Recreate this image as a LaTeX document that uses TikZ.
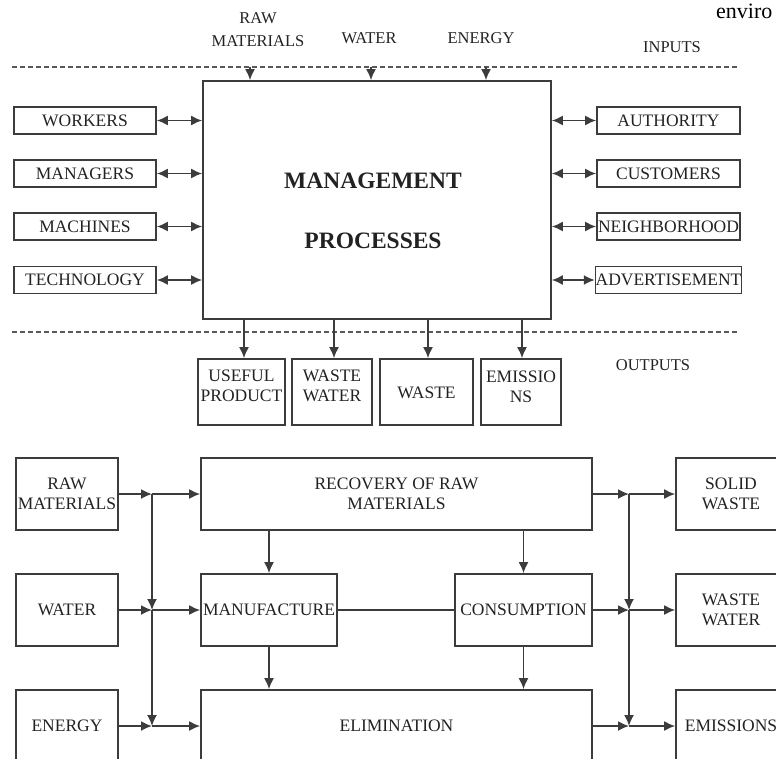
\documentclass[tikz,border=0pt]{standalone}
\usepackage{fontspec}
\setmainfont{Liberation Serif}
\usetikzlibrary{arrows.meta}
\definecolor{ink}{HTML}{222222}
\definecolor{edge}{HTML}{3C3C3C}
\begin{document}
\begin{tikzpicture}[x=1pt,y=-1pt,
  box/.style={draw=edge, line width=1.7pt, inner sep=0pt, text=ink, align=center, font=\fontsize{17.5}{20}\selectfont},
  txt/.style={inner sep=0pt, text=ink, align=center, font=\fontsize{17.5}{20}\selectfont},
  lbl/.style={inner sep=0pt, text=ink, align=center, font=\fontsize{16.5}{23}\selectfont},
  big/.style={inner sep=0pt, text=ink, font=\fontsize{23.5}{26}\selectfont\bfseries},
  arr/.style={draw=edge, line width=1.7pt, -{Latex[length=11pt,width=10pt]}},
  darr/.style={draw=edge, line width=1.7pt, {Latex[length=11pt,width=10pt]}-{Latex[length=11pt,width=10pt]}},
  ln/.style={draw=edge, line width=1.7pt},
  dline/.style={draw=edge!85, line width=1.8pt, dash pattern=on 5pt off 3pt}
]
\useasboundingbox (0,0) rectangle (776,758);
\clip (0,0) rectangle (776,758);

% partial heading
\node[inner sep=0pt, anchor=base west, text=black, font=\fontsize{22}{24}\selectfont] (hd) at (716,18) {enviro};

% ---------- top section ----------
\node[lbl] (inRaw) at (258,30) {RAW\\MATERIALS};
\node[lbl] (inWater) at (369,38) {WATER};
\node[lbl] (inEnergy) at (481,38) {ENERGY};
\node[lbl] (inputs) at (672,47) {INPUTS};

\coordinate (d1a) at (12,67);
\coordinate (d1b) at (737,67);
\draw[dline] (d1a) -- (d1b);

\node[box, minimum width=348, minimum height=238] (main) at (377,200) {};
\node[big] (mg1) at (373,181) {MANAGEMENT};
\node[big] (mg2) at (373,241) {PROCESSES};

\coordinate (ia) at (250,67);
\coordinate (ib) at (371,67);
\coordinate (ic) at (486,67);
\draw[arr] (ia) -- (ia |- main.north);
\draw[arr] (ib) -- (ib |- main.north);
\draw[arr] (ic) -- (ic |- main.north);

\node[box, minimum width=142, minimum height=27] (wk) at (85,120.5) {WORKERS};
\node[box, minimum width=142, minimum height=27] (mn) at (85,173.5) {MANAGERS};
\node[box, minimum width=142, minimum height=27] (mc) at (85,226.5) {MACHINES};
\node[box, minimum width=142, minimum height=27] (tc) at (85,280) {TECHNOLOGY};

\node[box, minimum width=143, minimum height=27] (au) at (668.5,120.5) {AUTHORITY};
\node[box, minimum width=143, minimum height=27] (cu) at (668.5,173.5) {CUSTOMERS};
\node[box, minimum width=143, minimum height=27] (nb) at (668.5,226.5) {NEIGHBORHOOD};
\node[box, minimum width=143, minimum height=27] (ad) at (668.5,280) {ADVERTISEMENT};

\foreach \n in {wk,mn,mc,tc} \draw[darr] (\n.east) -- (main.west |- \n.east);
\foreach \n in {au,cu,nb,ad} \draw[darr] (main.east |- \n.west) -- (\n.west);

\coordinate (d2a) at (12,332);
\coordinate (d2b) at (737,332);
\draw[dline] (d2a) -- (d2b);

\node[box, minimum width=87, minimum height=66] (o1) at (241.5,392) {};
\node[box, minimum width=80, minimum height=66] (o2) at (332,392) {};
\node[box, minimum width=93, minimum height=66] (o3) at (426.5,392) {};
\node[box, minimum width=80, minimum height=66] (o4) at (521,392) {};
\node[txt] (t1) at (241.5,386) {USEFUL\\PRODUCT};
\node[txt] (t2) at (332,386) {WASTE\\WATER};
\node[txt] (t3) at (426.5,393) {WASTE};
\node[txt] (t4) at (521,387) {EMISSIO\\NS};
\node[lbl] (outputs) at (653,365) {OUTPUTS};

\coordinate (oa) at (244,319);
\coordinate (ob) at (334,319);
\coordinate (oc) at (428,319);
\coordinate (od) at (522,319);
\draw[arr] (oa) -- (oa |- o1.north);
\draw[arr] (ob) -- (ob |- o2.north);
\draw[arr] (oc) -- (oc |- o3.north);
\draw[arr] (od) -- (od |- o4.north);

% ---------- bottom section ----------
\node[box, minimum width=102, minimum height=72] (raw) at (67,494) {RAW\\MATERIALS};
\node[box, minimum width=102, minimum height=72] (wat) at (67,610) {WATER};
\node[box, minimum width=102, minimum height=72] (ene) at (67,726) {ENERGY};

\node[box, minimum width=391, minimum height=72] (rec) at (396.5,494) {RECOVERY OF RAW\\MATERIALS};
\node[box, minimum width=136, minimum height=72] (man) at (269,610) {MANUFACTURE};
\node[box, minimum width=137, minimum height=72] (con) at (523.5,610) {CONSUMPTION};
\node[box, minimum width=391, minimum height=72] (eli) at (396.5,726) {ELIMINATION};

\node[box, minimum width=110, minimum height=72] (sw) at (731,494) {SOLID\\WASTE};
\node[box, minimum width=110, minimum height=72] (ww) at (731,610) {WASTE\\WATER};
\node[box, minimum width=110, minimum height=72] (em) at (731,726) {EMISSIONS};

\coordinate (lb1) at (152,494);
\coordinate (lb2) at (152,610);
\coordinate (lb3) at (152,726);
\coordinate (rb1) at (629,494);
\coordinate (rb2) at (629,610);
\coordinate (rb3) at (629,726);

\draw[arr] (raw.east) -- (lb1);
\draw[arr] (lb1) -- (rec.west);
\draw[arr] (wat.east) -- (lb2);
\draw[arr] (lb2) -- (man.west);
\draw[arr] (ene.east) -- (lb3);
\draw[arr] (lb3) -- (eli.west);
\draw[arr] (lb1) -- (lb2);
\draw[arr] (lb2) -- (lb3);

\draw[arr] (rec.east) -- (rb1);
\draw[arr] (rb1) -- (sw.west);
\draw[arr] (con.east) -- (rb2);
\draw[arr] (rb2) -- (ww.west);
\draw[arr] (eli.east) -- (rb3);
\draw[arr] (rb3) -- (em.west);
\draw[arr] (rb1) -- (rb2);
\draw[arr] (rb2) -- (rb3);

\draw[arr] (man.north |- rec.south) -- (man.north);
\draw[arr] (man.south) -- (man.south |- eli.north);
\draw[arr] (con.north |- rec.south) -- (con.north);
\draw[arr] (con.south) -- (con.south |- eli.north);
\draw[ln] (man.east) -- (con.west);
\end{tikzpicture}
\end{document}
